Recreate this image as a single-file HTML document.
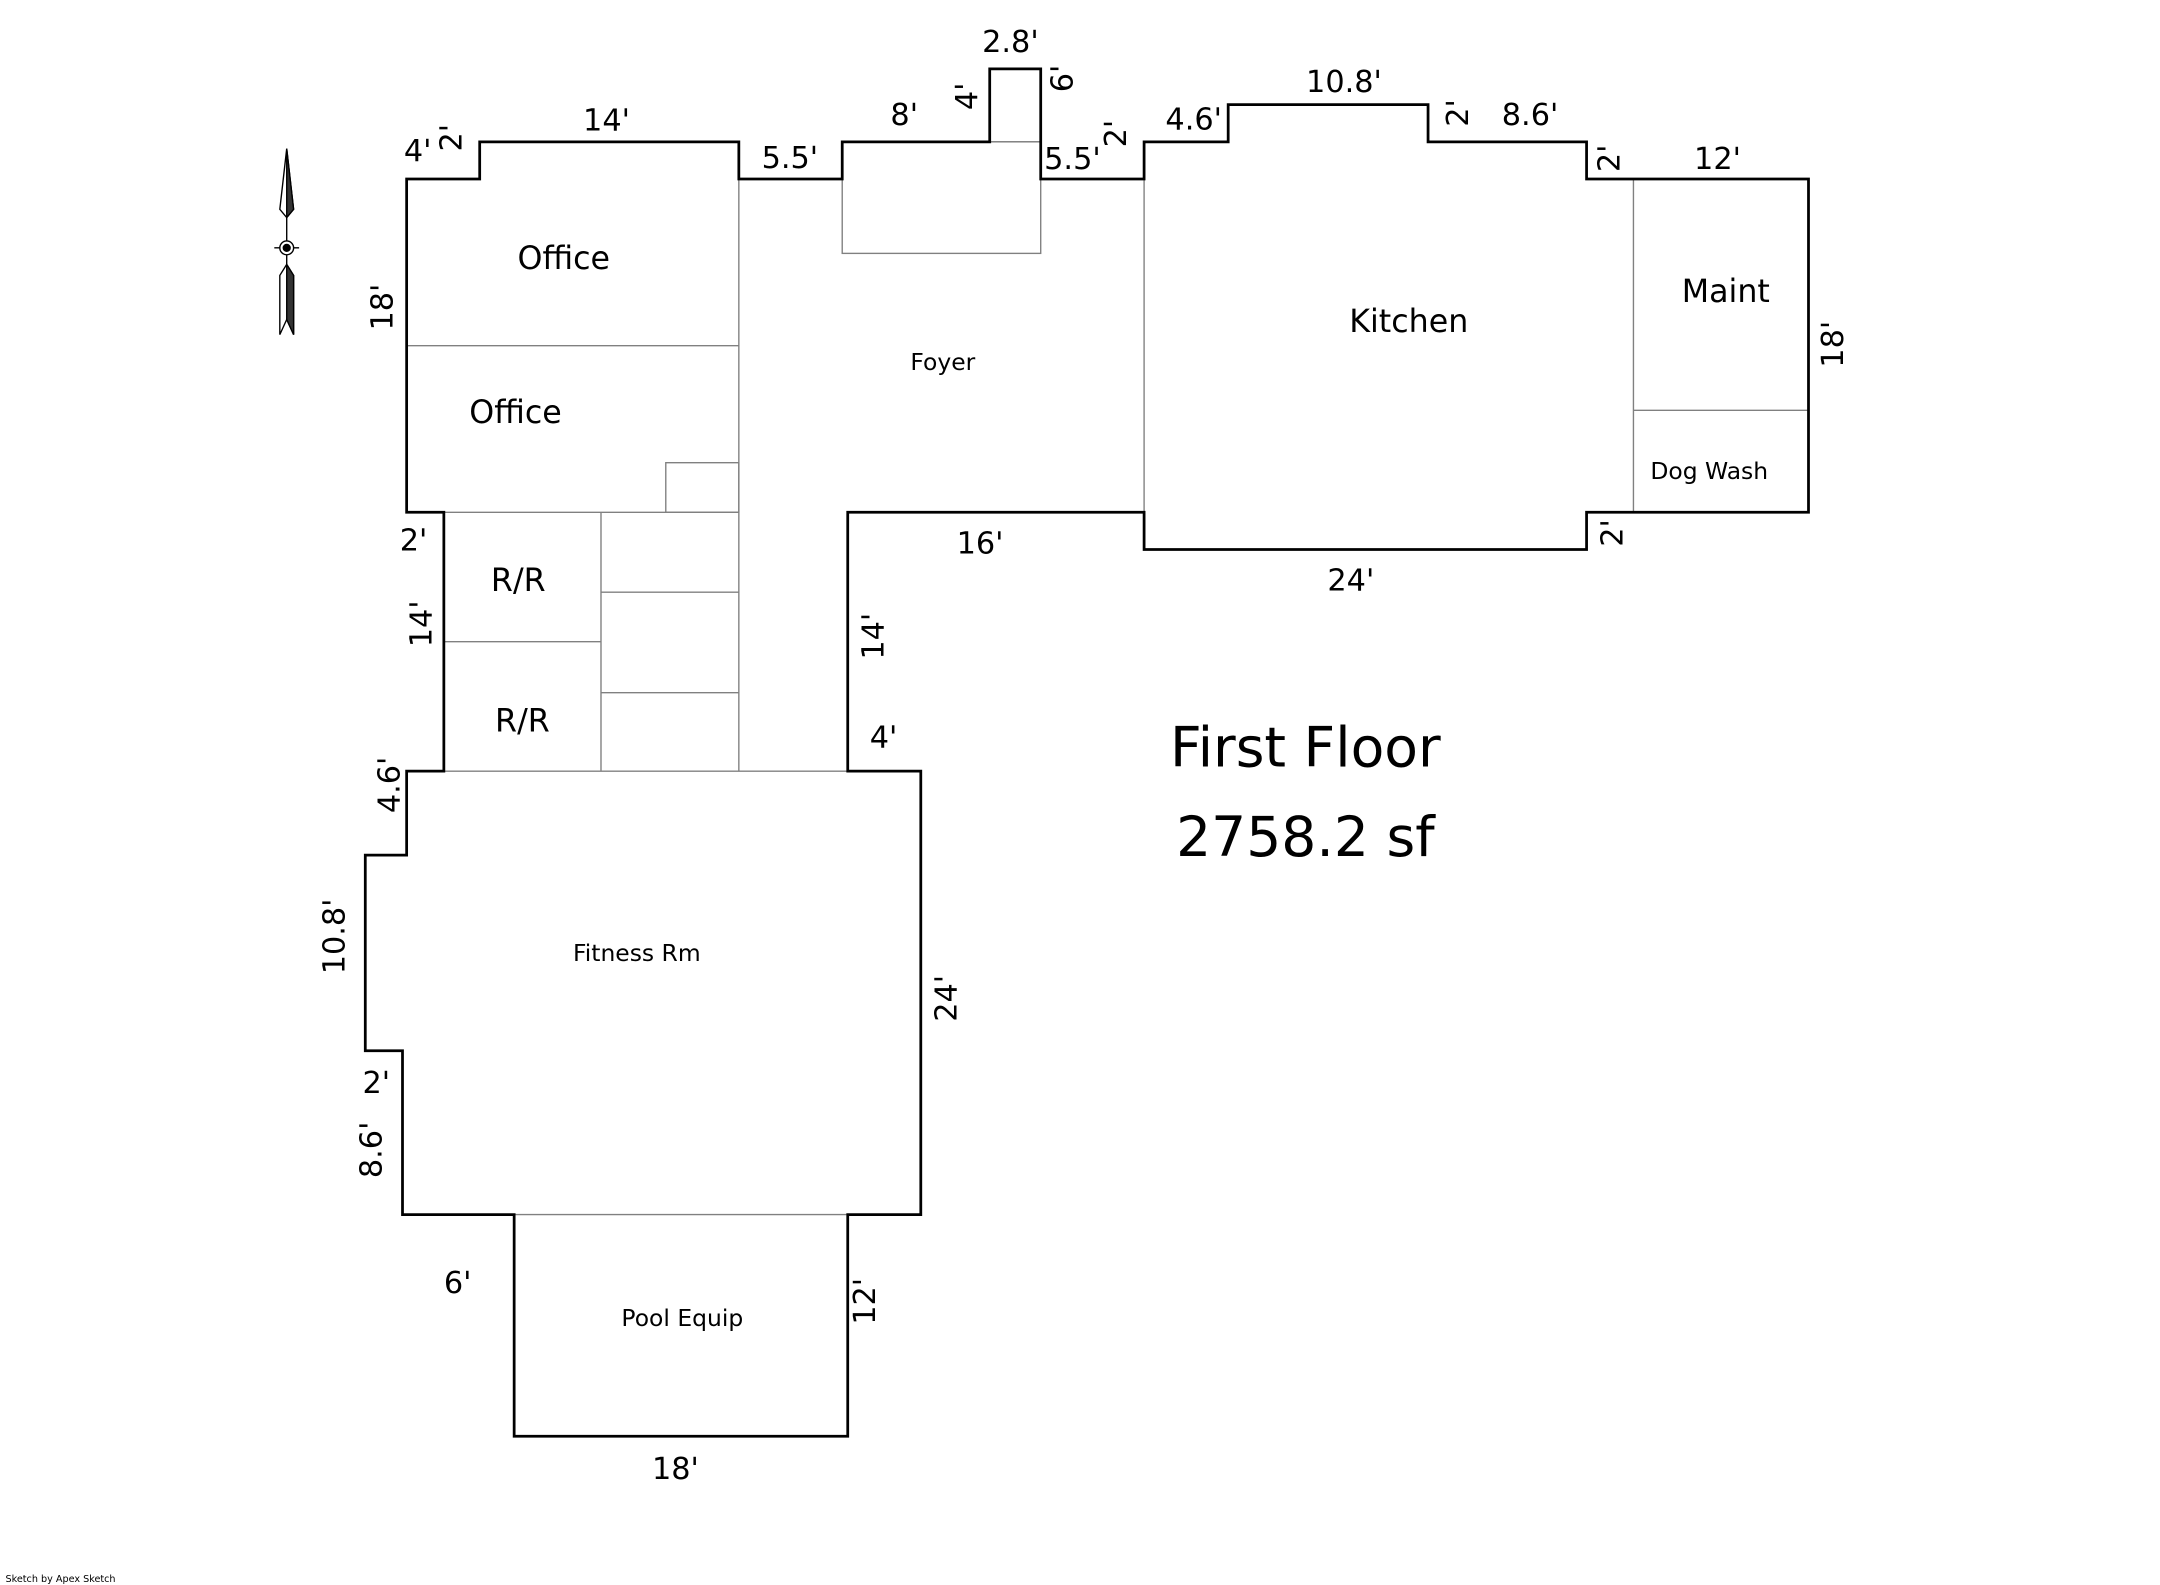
<!DOCTYPE html>
<html><head><meta charset="utf-8"><style>
html,body{margin:0;padding:0;background:#fff;}
svg{display:block;}
text{font-family:"DejaVu Sans","Liberation Sans",sans-serif;fill:#000;}
</style></head><body>
<svg width="2160" height="1585" viewBox="0 0 1567 1151" preserveAspectRatio="none" xmlns="http://www.w3.org/2000/svg">
<rect width="1567" height="1151" fill="#fff"/>
<g stroke="#808080" stroke-width="1" fill="none">
<rect x="611" y="103" width="144" height="81"/>
<line x1="718" y1="103" x2="755" y2="103"/>
<line x1="536" y1="130" x2="536" y2="560"/>
<line x1="295" y1="251" x2="536" y2="251"/>
<rect x="483" y="336" width="53" height="36"/>
<line x1="322" y1="372" x2="536" y2="372"/>
<line x1="436" y1="372" x2="436" y2="560"/>
<line x1="322" y1="466" x2="436" y2="466"/>
<line x1="436" y1="430" x2="536" y2="430"/>
<line x1="436" y1="503" x2="536" y2="503"/>
<line x1="322" y1="560" x2="615" y2="560"/>
<line x1="830" y1="130" x2="830" y2="372"/>
<line x1="1185" y1="130" x2="1185" y2="372"/>
<line x1="1185" y1="298" x2="1312" y2="298"/>
<line x1="373" y1="882" x2="615" y2="882"/>
</g>
<polygon fill="none" stroke="#000" stroke-width="2" points="295,130 348,130 348,103 536,103 536,130 611,130 611,103 718,103 718,50 755,50 755,130 830,130 830,103 891,103 891,76 1036,76 1036,103 1151,103 1151,130 1312,130 1312,372 1151,372 1151,399 830,399 830,372 615,372 615,560 668,560 668,882 615,882 615,1043 373,1043 373,882 292,882 292,763 265,763 265,621 295,621 295,560 322,560 322,372 295,372"/>
<g stroke="#000" stroke-width="1">
<polygon points="208,108 203,152 208,158 213,152" fill="#fff"/>
<polygon points="208,108 208,158 213,152" fill="#333"/>
<line x1="208" y1="158" x2="208" y2="192"/>
<line x1="199" y1="180" x2="217" y2="180"/>
<circle cx="208" cy="180" r="5" fill="#fff"/>
<circle cx="208" cy="180" r="2.5" fill="#000"/>
<polygon points="208,192 203,200 203,243 208,232 213,243 213,200" fill="#fff"/>
<polygon points="208,192 208,232 213,243 213,200" fill="#333"/>
</g>
<g font-size="22" text-anchor="middle" dominant-baseline="central">
<text x="303" y="110">4'</text>
<text x="440" y="88">14'</text>
<text x="573" y="115">5.5'</text>
<text x="656" y="84">8'</text>
<text x="733" y="31">2.8'</text>
<text x="778" y="116">5.5'</text>
<text x="866" y="87">4.6'</text>
<text x="975" y="60">10.8'</text>
<text x="1110" y="84">8.6'</text>
<text x="1246" y="116">12'</text>
<text x="980" y="422">24'</text>
<text x="711" y="395">16'</text>
<text x="641" y="536">4'</text>
<text x="300" y="393">2'</text>
<text x="273" y="787">2'</text>
<text x="332" y="932">6'</text>
<text x="490" y="1067">18'</text>
<text transform="translate(328,100) rotate(-90)">2'</text>
<text transform="translate(702,70) rotate(-90)">4'</text>
<text transform="translate(771,57) rotate(-90)">6'</text>
<text transform="translate(810,97) rotate(-90)">2'</text>
<text transform="translate(1058,82) rotate(-90)">2'</text>
<text transform="translate(1168,115) rotate(-90)">2'</text>
<text transform="translate(1330,250) rotate(-90)">18'</text>
<text transform="translate(1170,387) rotate(-90)">2'</text>
<text transform="translate(634,462) rotate(-90)">14'</text>
<text transform="translate(278,223) rotate(-90)">18'</text>
<text transform="translate(306,453) rotate(-90)">14'</text>
<text transform="translate(283,570) rotate(-90)">4.6'</text>
<text transform="translate(243,680) rotate(-90)">10.8'</text>
<text transform="translate(270,835) rotate(-90)">8.6'</text>
<text transform="translate(687,725) rotate(-90)">24'</text>
<text transform="translate(628,945) rotate(-90)">12'</text>
</g>
<g font-size="23" text-anchor="middle" dominant-baseline="central">
<text x="409" y="188">Office</text>
<text x="374" y="300">Office</text>
<text x="1022" y="234">Kitchen</text>
<text x="1252" y="212">Maint</text>
<text x="376" y="422">R/R</text>
<text x="379" y="524">R/R</text>
</g>
<g font-size="17" text-anchor="middle" dominant-baseline="central">
<text x="684" y="263">Foyer</text>
<text x="1240" y="342">Dog Wash</text>
<text x="462" y="692">Fitness Rm</text>
<text x="495" y="957">Pool Equip</text>
</g>
<g font-size="40" text-anchor="middle" dominant-baseline="central">
<text x="947" y="543">First Floor</text>
<text x="947" y="608">2758.2 sf</text>
</g>
<text x="4" y="1149" font-size="7">Sketch by Apex Sketch</text>
</svg>
</body></html>
